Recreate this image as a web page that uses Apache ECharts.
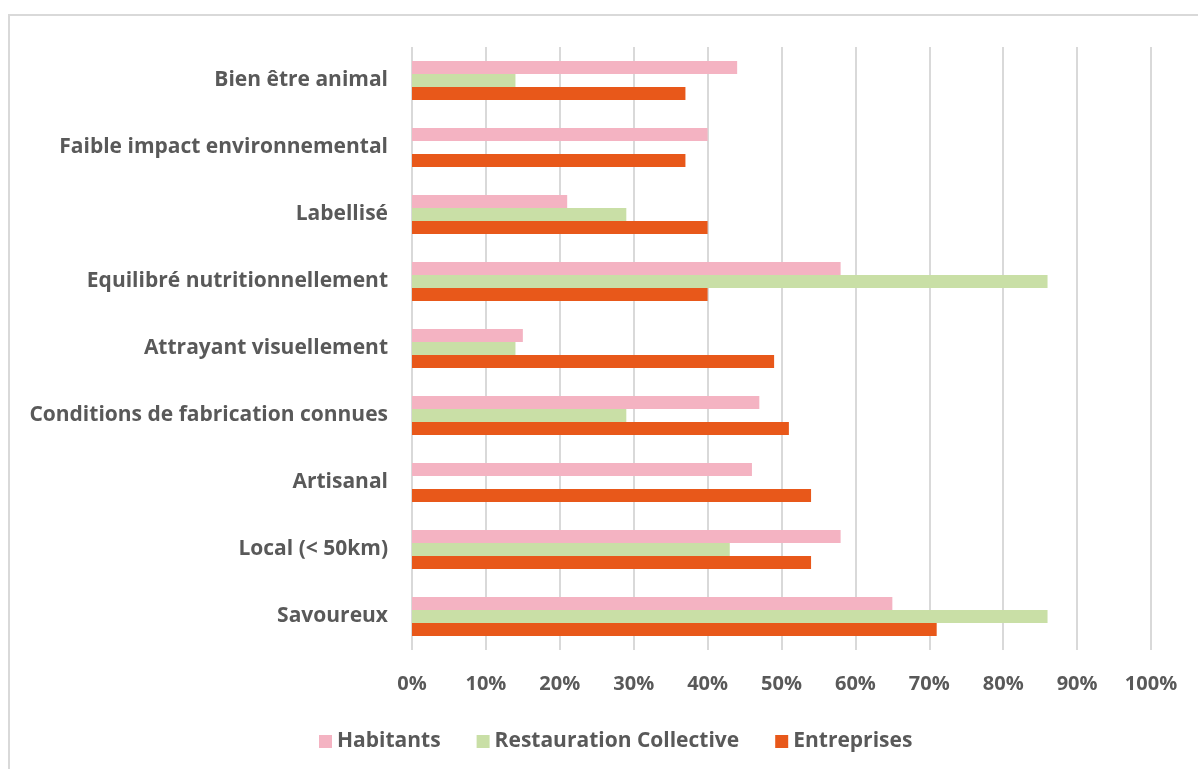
<!DOCTYPE html>
<html>
<head>
<meta charset="utf-8">
<script src="https://cdn.jsdelivr.net/npm/echarts@6/dist/echarts.min.js"></script>
<style>
  html, body { margin: 0; padding: 0; background: #ffffff; }
  #chart { width: 1198px; height: 769px; }
</style>
</head>
<body>
<div id="chart"></div>
<script>
// Criteria, listed top to bottom
const categories = [
  'Bien être animal',
  'Faible impact environnemental',
  'Labellisé',
  'Equilibré nutritionnellement',
  'Attrayant visuellement',
  'Conditions de fabrication connues',
  'Artisanal',
  'Local (< 50km)',
  'Savoureux'
];

// Share of respondents (%)
const habitants = [44, 40, 21, 58, 15, 47, 46, 58, 65];
const restaurationCollective = [14, 0, 29, 86, 14, 29, 0, 43, 86];
const entreprises = [37, 37, 40, 40, 49, 51, 54, 54, 71];

const seriesNames = ['Habitants', 'Restauration Collective', 'Entreprises'];
const seriesColors = ['#F4B3C2', '#C9DFA6', '#E8581A'];

const textColor = '#595959';
const fontFamily = '"Open Sans", "Liberation Sans", sans-serif';

const chart = echarts.init(document.getElementById('chart'), null, { renderer: 'canvas' });

const makeSeries = (name, data, color) => ({
  name: name,
  type: 'bar',
  data: data,
  barWidth: 13,
  barGap: '0%',
  barCategoryGap: '40%',
  itemStyle: { color: color },
  emphasis: { disabled: true }
});

chart.setOption({
  animation: false,
  backgroundColor: '#ffffff',
  graphic: [{
    type: 'rect',
    shape: { x: 9, y: 15, width: 1220, height: 800 },
    style: { fill: 'none', stroke: '#d9d9d9', lineWidth: 2 },
    silent: true
  }],
  grid: { left: 412, right: 47, top: 47, bottom: 119, containLabel: false },
  legend: {
    data: seriesNames,
    top: 726,
    left: 314,
    itemWidth: 13,
    itemHeight: 13,
    itemGap: 36,
    icon: 'rect',
    textStyle: { color: textColor, fontSize: 21, fontWeight: 'bold', fontFamily: fontFamily }
  },
  xAxis: {
    type: 'value',
    min: 0,
    max: 100,
    interval: 10,
    axisLine: { show: false },
    axisTick: { show: false },
    splitLine: { show: true, lineStyle: { color: '#d9d9d9', width: 2 } },
    axisLabel: {
      formatter: '{value}%',
      color: textColor,
      fontSize: 20,
      fontWeight: 'bold',
      fontFamily: fontFamily,
      margin: 24
    }
  },
  yAxis: {
    type: 'category',
    data: categories,
    inverse: true,
    axisLine: { show: false },
    axisTick: { show: false },
    axisLabel: {
      color: textColor,
      fontSize: 21,
      fontWeight: 'bold',
      fontFamily: fontFamily,
      margin: 24
    }
  },
  series: [
    makeSeries(seriesNames[0], habitants, seriesColors[0]),
    makeSeries(seriesNames[1], restaurationCollective, seriesColors[1]),
    makeSeries(seriesNames[2], entreprises, seriesColors[2])
  ]
});
</script>
</body>
</html>
